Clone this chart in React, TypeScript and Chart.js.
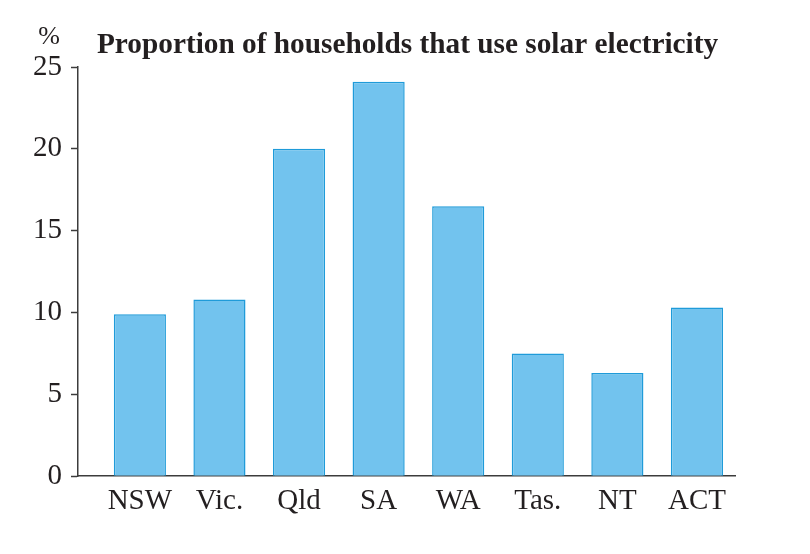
import { useEffect, useRef } from 'react';
import { Chart, registerables } from 'chart.js';

Chart.register(...registerables);

const STATES = ['NSW', 'Vic.', 'Qld', 'SA', 'WA', 'Tas.', 'NT', 'ACT'];
const SOLAR_PCT = [9.9, 10.8, 20.0, 24.1, 16.5, 7.5, 6.3, 10.3];
const Y_TICKS = [0, 5, 10, 15, 20, 25];
const TITLE = 'Proportion of households that use solar electricity';

const INK = '#231f20';
const AXIS = '#3c3c3c';
const FONT = '"Liberation Serif", "Times New Roman", serif';

// title and the "%" unit are drawn by hand so the title can sit off-centre like the original
const headings = {
  id: 'headings',
  afterDraw(chart: Chart) {
    const { ctx, chartArea } = chart;
    ctx.save();
    ctx.fillStyle = INK;
    ctx.textBaseline = 'alphabetic';
    ctx.textAlign = 'center';
    ctx.font = `26px ${FONT}`;
    ctx.fillText('%', chartArea.left - 29, 44);
    ctx.font = `bold 29.3px ${FONT}`;
    ctx.fillText(TITLE, (chartArea.left + chartArea.right) / 2 + 1, 53);
    ctx.restore();
  },
};

export default function App() {
  const canvasRef = useRef<HTMLCanvasElement>(null);

  useEffect(() => {
    document.body.style.margin = '0';
    if (!canvasRef.current) return;

    const chart = new Chart(canvasRef.current, {
      type: 'bar',
      data: {
        datasets: [{
          data: SOLAR_PCT.map((v, i) => ({ x: i + 1, y: v })),
          backgroundColor: '#72c3ee',
          borderColor: '#1f9bd9',
          borderWidth: 1.5,
          categoryPercentage: 1,
          barPercentage: 0.655,
        }],
      },
      options: {
        animation: false,
        responsive: false,
        layout: { padding: { left: 0, right: 75, top: 67, bottom: 35 } },
        plugins: {
          legend: { display: false },
          tooltip: { enabled: false },
          title: { display: false },
        },
        scales: {
          x: {
            type: 'linear',
            offset: false,
            min: 0.2225,
            max: 8.478,
            grid: { display: false },
            border: { display: true, color: AXIS, width: 1.5 },
            afterBuildTicks: (s) => {
              s.ticks = STATES.map((_, i) => ({ value: i + 1 }));
            },
            ticks: {
              autoSkip: false,
              maxRotation: 0,
              padding: 0,
              color: INK,
              font: { family: FONT, size: 29 },
              callback: (v) => STATES[Number(v) - 1] ?? '',
            },
          },
          y: {
            min: 0,
            max: 25,
            afterBuildTicks: (s) => {
              s.ticks = Y_TICKS.map(v => ({ value: v }));
            },
            afterFit: (s) => { s.width = 78; },
            grid: {
              drawOnChartArea: false,
              drawTicks: true,
              tickLength: 7,
              tickColor: AXIS,
              tickWidth: 1.5,
            },
            border: { display: true, color: AXIS, width: 1.5 },
            ticks: {
              padding: 9,
              color: INK,
              font: { family: FONT, size: 29 },
            },
          },
        },
      },
      plugins: [headings],
    });

    return () => chart.destroy();
  }, []);

  return <canvas ref={canvasRef} width={810} height={554} style={{ display: 'block' }} />;
}
